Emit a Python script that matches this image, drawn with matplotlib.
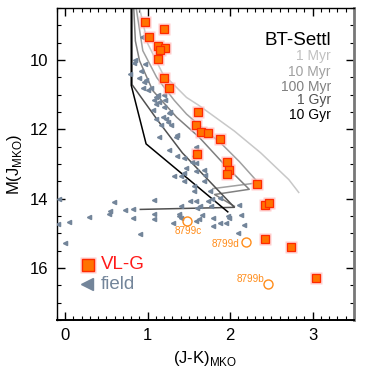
import matplotlib
matplotlib.use("Agg")
import matplotlib.pyplot as plt
from matplotlib.ticker import MultipleLocator

plt.rcParams['font.family'] = ['Liberation Sans', 'DejaVu Sans']

# ---------------- data ----------------
iso_labels = ["1 Myr", "10 Myr", "100 Myr", "1 Gyr", "10 Gyr"]
iso_colors = ["#c8c8c8", "#a0a0a0", "#808080", "#505050", "#000000"]
iso_1myr_jk = [0.90, 1.00, 1.18, 1.47, 1.62, 2.05, 2.37, 2.71, 2.83]
iso_1myr_m = [8.50, 9.53, 10.39, 11.08, 11.31, 12.05, 12.68, 13.45, 13.82]
iso_10myr_jk = [0.86, 0.94, 1.11, 1.32, 1.47, 1.72, 1.87, 2.11, 2.34, 1.79]
iso_10myr_m = [8.50, 9.73, 10.51, 11.16, 11.56, 12.08, 12.36, 12.93, 13.54, 13.71]
iso_100myr_jk = [0.83, 0.85, 0.90, 1.06, 1.35, 1.62, 1.93, 2.23, 1.81, 2.05]
iso_100myr_m = [8.50, 9.45, 10.02, 10.88, 11.65, 12.22, 13.02, 13.73, 13.88, 14.22]
iso_1gyr_jk = [0.81, 0.81, 0.93, 1.12, 1.42, 2.05, 0.91]
iso_1gyr_m = [8.50, 10.71, 11.11, 11.74, 12.68, 14.25, 14.31]
iso_10gyr_jk = [0.80, 0.80, 0.98, 1.97]
iso_10gyr_m = [8.50, 10.73, 12.42, 14.38]

vlg_jk = [0.97, 1.20, 1.02, 1.12, 1.21, 1.15, 1.12, 1.20, 1.26, 1.61, 1.58, 1.65,
          1.73, 1.87, 1.60, 1.96, 1.99, 1.96, 2.33, 2.42, 2.47, 2.42, 2.74, 3.04]
vlg_m = [8.90, 9.11, 9.35, 9.59, 9.65, 9.71, 9.97, 10.53, 10.80, 11.50, 11.88, 12.07,
         12.11, 12.29, 12.71, 12.94, 13.16, 13.28, 13.59, 14.19, 14.13, 15.16, 15.40, 16.29]

field_jk = [0.93, 0.84, 0.83, 0.79, 0.92, 0.97, 0.90, 0.95, 0.98, 1.00, 0.94, 1.04,
            1.07, 1.10, 1.20, 1.21, 1.10, 1.27, 1.06, 1.10, 1.22, 1.28, 1.16, 1.14,
            1.34, 1.26, 1.36, 1.32, 1.40, 1.44, 1.12, 1.14, 1.20, 1.26, 1.18, 1.24,
            1.36, 1.58, 1.54, 1.44, 1.46, 1.44, 1.68, 1.70, 1.56, 1.56, 1.76, 1.78,
            1.59, 1.68, 1.59, 1.56, -0.08, 0.05, 0.00, 0.29, 0.54, 0.53, 0.59, 0.73,
            0.82, 0.82, 0.91, 1.07, 1.08, 1.07, 1.31, 1.38, 1.40, -0.09, 1.51, 1.59,
            1.63, 1.73, 1.77, 1.87, 1.79, 1.79, 1.87, 1.95, 1.98, 2.13, 2.17, 2.09,
            1.66, 1.62, 1.58, 1.40, 1.60, 1.38, 1.97, 2.11]
field_m = [9.33, 10.00, 10.08, 10.40, 10.33, 10.11, 10.51, 10.64, 10.59, 10.86, 10.80, 10.80,
           11.14, 11.07, 11.02, 11.16, 11.28, 11.50, 11.45, 11.69, 11.69, 11.88, 11.88, 12.21,
           12.21, 12.59, 12.78, 13.35, 13.35, 13.50, 11.02, 11.21, 11.35, 11.54, 11.64, 11.78,
           12.17, 12.50, 12.93, 12.83, 13.11, 13.26, 13.16, 13.31, 13.64, 13.78, 13.78, 14.02,
           12.97, 13.50, 13.21, 12.78, 14.00, 14.68, 15.27, 14.53, 14.36, 14.44, 14.10, 14.34,
           14.30, 14.55, 15.03, 14.05, 14.43, 14.58, 14.70, 14.43, 14.55, 14.74, 14.08, 14.08,
           14.22, 14.08, 14.22, 13.98, 14.55, 14.79, 14.70, 14.70, 14.55, 14.46, 14.77, 14.98,
           14.48, 14.59, 14.64, 14.21, 14.26, 14.50, 14.50, 14.19]

hr_names = ["8799c", "8799d", "8799b"]
hr_jk = [1.48, 2.19, 2.46]
hr_m = [14.64, 15.24, 16.45]

xticks = [0, 1, 2, 3]
yticks = [10, 12, 14, 16]

# ---------------- figure ----------------
fig = plt.figure(figsize=(3.74, 3.74), dpi=100)
ax = fig.add_axes([0.1524, 0.1444, 0.7941, 0.8342])

iso_jk = [iso_1myr_jk, iso_10myr_jk, iso_100myr_jk, iso_1gyr_jk, iso_10gyr_jk]
iso_m = [iso_1myr_m, iso_10myr_m, iso_100myr_m, iso_1gyr_m, iso_10gyr_m]
for jk, m, c in zip(iso_jk, iso_m, iso_colors):
    ax.plot(jk, m, color=c, lw=1.1, zorder=2)

ax.plot(field_jk, field_m, ls='none', marker='<', ms=3.0, color='#73859a',
        mec='#73859a', zorder=3)

ax.plot(vlg_jk, vlg_m, ls='none', marker='s', ms=8.5, color='#ffb8b8',
        mec='none', alpha=0.7, zorder=4)
ax.plot(vlg_jk, vlg_m, ls='none', marker='s', ms=6.2, mfc='#ff7300',
        mec='#ff2a00', mew=0.9, zorder=5)

ax.plot(hr_jk, hr_m, ls='none', marker='o', ms=6.5, mfc='none',
        mec='#ff8c1a', mew=1.0, zorder=5)
ax.text(hr_jk[0] + 0.01, hr_m[0] + 0.15, hr_names[0], color='#ff8c1a',
        fontsize=7.2, ha='center', va='top')
ax.text(hr_jk[1] - 0.08, hr_m[1] + 0.08, hr_names[1], color='#ff8c1a',
        fontsize=7.2, ha='right', va='center')
ax.text(hr_jk[2] - 0.05, hr_m[2] - 0.14, hr_names[2], color='#ff8c1a',
        fontsize=7.2, ha='right', va='center')

# isochrone legend
ax.text(3.22, 9.56, "BT-Settl", fontsize=13.5, ha='right', va='baseline', color='black')
leg_y = [10.0, 10.45, 10.88, 11.28, 11.71]
leg_colors = ["#c0c0c0", "#a0a0a0", "#808080", "#505050", "#000000"]
for lab, yy, c in zip(iso_labels, leg_y, leg_colors):
    ax.text(3.22, yy, lab, fontsize=10, ha='right', va='baseline', color=c)

# symbol legend
ax.plot([0.27], [15.9], ls='none', marker='s', ms=11, color='#ffb8b8', mec='none', alpha=0.7)
ax.plot([0.27], [15.9], ls='none', marker='s', ms=8.5, mfc='#ff7300', mec='#ff2a00', mew=1.0)
ax.text(0.43, 16.03, "VL-G", fontsize=13.5, color='#ff1a1a', ha='left', va='baseline')
ax.plot([0.26], [16.45], ls='none', marker='<', ms=9, color='#73859a')
ax.text(0.43, 16.62, "field", fontsize=13.5, color='#73859a', ha='left', va='baseline')

ax.set_xlim(-0.1, 3.5)
ax.set_ylim(17.5, 8.5)
ax.set_xticks(xticks)
ax.set_yticks(yticks)
ax.xaxis.set_minor_locator(MultipleLocator(0.1))
ax.yaxis.set_minor_locator(MultipleLocator(0.5))
ax.tick_params(which='both', direction='in', top=True, right=True, labelsize=12, pad=6)
ax.tick_params(which='major', length=6, width=1)
ax.tick_params(which='minor', length=3, width=0.8)

for s in ['left', 'top']:
    ax.spines[s].set_linewidth(1.0)
ax.spines['right'].set_color('#777777')
ax.spines['right'].set_linewidth(2.0)
ax.spines['bottom'].set_linewidth(1.4)

ax.set_xlabel(r"(J-K)$_{\mathregular{MKO}}$", fontsize=12, labelpad=4)
ax.set_ylabel(r"M(J$_{\mathregular{MKO}}$)", fontsize=12, labelpad=4)

fig.savefig("out.png", dpi=100)
